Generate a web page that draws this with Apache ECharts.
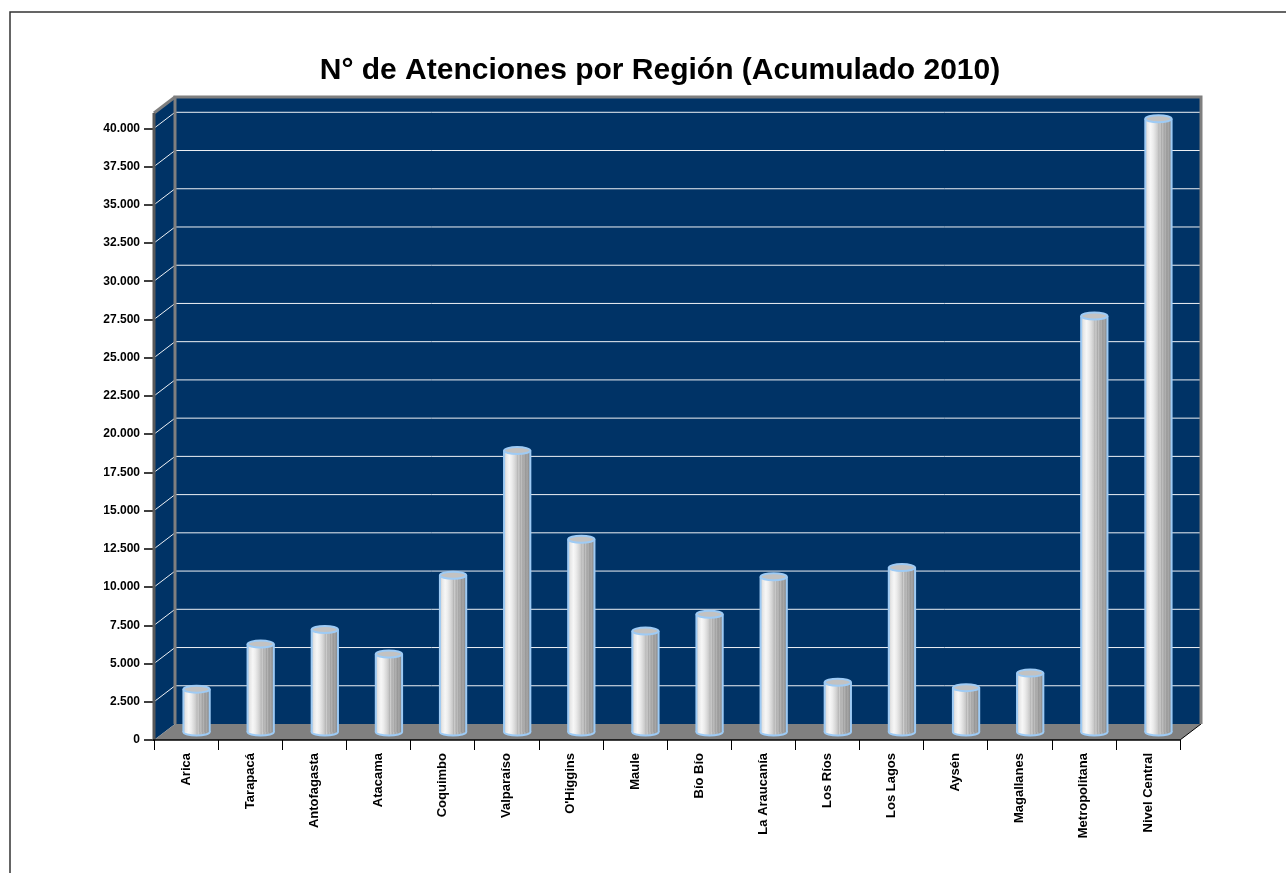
<!DOCTYPE html>
<html>
<head>
<meta charset="utf-8">
<title>N° de Atenciones por Región</title>
<script src="https://cdn.jsdelivr.net/npm/echarts@6/dist/echarts.min.js"></script>
<style>
html, body { margin: 0; padding: 0; background: #fff; }
#main { width: 1286px; height: 873px; }
</style>
</head>
<body>
<div id="main"></div>
<script>
// datos
var regiones = ['Arica', 'Tarapacá', 'Antofagasta', 'Atacama', 'Coquimbo', 'Valparaíso', "O'Higgins", 'Maule',
    'Bío Bío', 'La Araucanía', 'Los Ríos', 'Los Lagos', 'Aysén', 'Magallanes', 'Metropolitana', 'Nivel Central'];
var atenciones = [2800, 5750, 6700, 5100, 10250, 18400, 12600, 6600, 7700, 10150, 3250, 10750, 2900, 3850, 27200, 40100];
var yTicks = [0, 2500, 5000, 7500, 10000, 12500, 15000, 17500, 20000, 22500, 25000, 27500, 30000, 32500, 35000, 37500, 40000];
var yMax = 41000;

(function () {
    var chart = echarts.init(document.getElementById('main'));
    var FONT = '"Liberation Sans", Arial, sans-serif';
    var DX = 21, DY = 16;          // profundidad del efecto 3D
    var WALL = '#003366';
    var EDGE = '#7f7f7f';

    function miles(v) {
        return String(v).replace(/\B(?=(\d{3})+(?!\d))/g, '.');
    }

    // paredes, piso y lineas de division
    function renderFrame(params, api) {
        var cs = params.coordSys;
        var x0 = cs.x, x1 = cs.x + cs.width;
        var yb = api.coord([0, 0])[1], yt = api.coord([0, yMax])[1];
        var kids = [];
        kids.push({ type: 'polygon', shape: { points: [[x0 + DX, yt - DY], [x1 + DX, yt - DY], [x1 + DX, yb - DY], [x0 + DX, yb - DY]] },
            style: { fill: WALL } });
        kids.push({ type: 'polygon', shape: { points: [[x0, yb], [x0, yt], [x0 + DX, yt - DY], [x0 + DX, yb - DY]] },
            style: { fill: WALL } });
        yTicks.forEach(function (v) {
            if (v === 0) return;
            var y = api.coord([0, v])[1];
            kids.push({ type: 'line', shape: { x1: x0, y1: y, x2: x0 + DX, y2: y - DY }, style: { stroke: '#eef1f5', lineWidth: 1 } });
            kids.push({ type: 'line', shape: { x1: x0 + DX, y1: y - DY, x2: x1 + DX, y2: y - DY }, style: { stroke: '#eef1f5', lineWidth: 1 } });
        });
        kids.push({ type: 'polygon', shape: { points: [[x0, yb], [x1, yb], [x1 + DX, yb - DY], [x0 + DX, yb - DY]] },
            style: { fill: '#808080' } });
        kids.push({ type: 'line', shape: { x1: x1, y1: yb, x2: x1 + DX, y2: yb - DY }, style: { stroke: '#000', lineWidth: 1 } });
        kids.push({ type: 'polyline', shape: { points: [[x0 + DX, yb - DY], [x0 + DX, yt - DY], [x1 + DX, yt - DY], [x1 + DX, yb - DY]] },
            style: { stroke: EDGE, lineWidth: 3, fill: null } });
        kids.push({ type: 'line', shape: { x1: x0, y1: yt, x2: x0 + DX, y2: yt - DY }, style: { stroke: EDGE, lineWidth: 3 } });
        kids.push({ type: 'line', shape: { x1: x0, y1: yb, x2: x0, y2: yt }, style: { stroke: '#5a5a5a', lineWidth: 3 } });
        kids.push({ type: 'line', shape: { x1: x0 - 1, y1: yb, x2: x1, y2: yb }, style: { stroke: '#000', lineWidth: 1.5 } });
        return { type: 'group', children: kids };
    }

    var bodyFill = {
        type: 'linear', x: 0, y: 0, x2: 1, y2: 0,
        colorStops: [
            { offset: 0, color: '#c8c8c8' }, { offset: 0.08, color: '#e6e6e6' }, { offset: 0.2, color: '#f7f7f7' },
            { offset: 0.3, color: '#ececec' }, { offset: 0.4, color: '#dadada' }, { offset: 0.48, color: '#c9c9c9' },
            { offset: 0.52, color: '#b6b6b6' }, { offset: 0.56, color: '#cdcdcd' }, { offset: 0.62, color: '#ababab' },
            { offset: 0.66, color: '#bfbfbf' }, { offset: 0.72, color: '#a2a2a2' }, { offset: 0.76, color: '#b3b3b3' },
            { offset: 0.82, color: '#989898' }, { offset: 0.88, color: '#a7a7a7' }, { offset: 0.94, color: '#919191' },
            { offset: 1, color: '#8a8a8a' }
        ]
    };
    var RIM = '#9ecbf5';

    // cilindros
    function renderCylinder(params, api) {
        var i = api.value(0), v = api.value(1);
        var top = api.coord([i, v]);
        var base = api.coord([i, 0]);
        var bw = api.size([1, 0])[0];
        var cx = top[0] + DX / 2;
        var yTop = top[1] - DY / 2, yBot = base[1] - DY / 2;
        var rx = bw * 0.205, ry = 3.5;
        return {
            type: 'group',
            children: [
                { type: 'ellipse', shape: { cx: cx, cy: yBot, rx: rx, ry: ry }, style: { fill: bodyFill, stroke: RIM, lineWidth: 2 } },
                { type: 'rect', shape: { x: cx - rx, y: yTop, width: rx * 2, height: yBot - yTop }, style: { fill: bodyFill } },
                { type: 'line', shape: { x1: cx - rx, y1: yTop, x2: cx - rx, y2: yBot }, style: { stroke: RIM, lineWidth: 2 } },
                { type: 'line', shape: { x1: cx + rx, y1: yTop, x2: cx + rx, y2: yBot }, style: { stroke: RIM, lineWidth: 2 } },
                { type: 'ellipse', shape: { cx: cx, cy: yTop, rx: rx, ry: ry }, style: { fill: '#c2c2c2', stroke: RIM, lineWidth: 2 } }
            ]
        };
    }

    var option = {
        backgroundColor: '#fff',
        animation: false,
        title: {
            text: 'N° de Atenciones por Región (Acumulado 2010)',
            left: 655,
            top: 51,
            textAlign: 'center',
            textStyle: { fontFamily: FONT, fontSize: 30, fontWeight: 'bold', color: '#000' }
        },
        graphic: [{
            type: 'rect', z: -1, silent: true,
            shape: { x: 10, y: 12, width: 1300, height: 900 },
            style: { fill: null, stroke: '#333', lineWidth: 1.5 }
        }],
        grid: { left: 154, top: 113, width: 1026, height: 627 },
        xAxis: {
            type: 'category',
            data: regiones,
            axisLine: { show: false },
            axisTick: { show: true, length: 10, lineStyle: { color: '#000', width: 1 } },
            axisLabel: { interval: 0, rotate: 90, margin: 13, fontFamily: FONT, fontSize: 13, fontWeight: 'bold', color: '#000' },
            splitLine: { show: false }
        },
        yAxis: {
            type: 'value',
            min: 0,
            max: yMax,
            interval: 2500,
            axisLine: { show: false },
            axisTick: { show: true, length: 10, customValues: yTicks, lineStyle: { color: '#000', width: 1.5 } },
            axisLabel: {
                customValues: yTicks, margin: 14, fontFamily: FONT, fontSize: 12, fontWeight: 'bold', color: '#000',
                formatter: function (v) { return v % 2500 === 0 ? miles(v) : ''; }
            },
            splitLine: { show: false }
        },
        series: [
            { type: 'custom', name: 'marco', silent: true, z: 1, renderItem: renderFrame, data: [[0, 0]] },
            {
                type: 'custom', name: 'Atenciones', z: 3, renderItem: renderCylinder,
                encode: { x: 0, y: 1 },
                data: atenciones.map(function (v, i) { return [i, v]; })
            }
        ]
    };

    chart.setOption(option);
})();
</script>
</body>
</html>
